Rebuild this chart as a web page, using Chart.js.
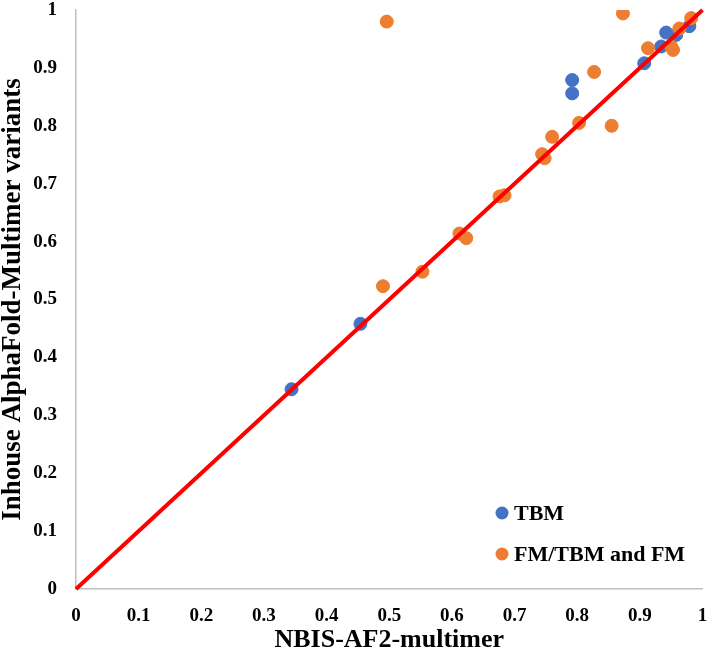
<!DOCTYPE html>
<html lang="en">
<head>
    <meta charset="UTF-8">
    <title>NBIS-AF2-multimer vs Inhouse AlphaFold-Multimer</title>
    <script src="https://cdn.jsdelivr.net/npm/chart.js"></script>
    <style>
        html, body { margin: 0; padding: 0; background: #fff; }
        #wrap { width: 710px; height: 657px; position: relative; }
    </style>
</head>
<body>
    <div id="wrap"><canvas id="scoreChart"></canvas></div>

    <script>
        // Data
        const seriesNames = ['TBM', 'FM/TBM and FM'];
        const tbmX = [0.344, 0.454, 0.792, 0.792, 0.907, 0.934, 0.942, 0.958, 0.979];
        const tbmY = [0.345, 0.458, 0.879, 0.856, 0.908, 0.937, 0.961, 0.957, 0.972];
        const fmX = [0.496, 0.873, 0.982, 0.963, 0.913, 0.950, 0.953, 0.827, 0.803, 0.855,
                     0.760, 0.744, 0.748, 0.676, 0.684, 0.612, 0.623, 0.553, 0.490];
        const fmY = [0.980, 0.994, 0.986, 0.968, 0.934, 0.937, 0.931, 0.893, 0.805, 0.800,
                     0.781, 0.751, 0.744, 0.678, 0.680, 0.614, 0.606, 0.548, 0.523];
        const lineX = [0, 1];
        const lineY = [0, 1];
        const tickValues = [0, 0.1, 0.2, 0.3, 0.4, 0.5, 0.6, 0.7, 0.8, 0.9, 1];
        const tickLabels = ['0', '0.1', '0.2', '0.3', '0.4', '0.5', '0.6', '0.7', '0.8', '0.9', '1'];

        const blue = '#4472C4';
        const orange = '#ED7D31';
        const serif = '"Liberation Serif", "Times New Roman", serif';

        const toPoints = (xs, ys) => xs.map((x, i) => ({ x: x, y: ys[i] }));

        // legend drawn inside the plot, bottom right
        const insideLegend = {
            id: 'insideLegend',
            afterDraw(chart) {
                const ctx = chart.ctx;
                const area = chart.chartArea;
                const colors = [blue, orange];
                const x0 = area.left + (area.right - area.left) * 0.68;
                ctx.save();
                ctx.font = 'bold 22px ' + serif;
                ctx.textBaseline = 'middle';
                seriesNames.forEach((name, i) => {
                    const y = area.bottom - 76 + i * 41;
                    ctx.fillStyle = colors[i];
                    ctx.beginPath();
                    ctx.arc(x0, y, 6.5, 0, Math.PI * 2);
                    ctx.fill();
                    ctx.fillStyle = '#000';
                    ctx.fillText(name, x0 + 12, y + 1);
                });
                ctx.restore();
            }
        };

        // invisible tick marks give the label gap (tick padding would also pad the plot edges)
        function axis(title, isX) {
            return {
                type: 'linear',
                min: 0,
                max: 1,
                afterBuildTicks: s => { s.ticks = tickValues.map(v => ({ value: v })); },
                afterFit: s => { if (isX) s.height = 68; else s.width = 76; },
                grid: {
                    display: true,
                    drawOnChartArea: false,
                    drawTicks: true,
                    tickLength: isX ? 18 : 19,
                    color: 'rgba(0,0,0,0)'
                },
                border: { display: true, color: '#bfbfbf', width: 1.5 },
                ticks: {
                    color: '#000',
                    padding: 0,
                    font: { family: serif, size: 19, weight: 'bold', lineHeight: 1 },
                    callback: (v, i) => tickLabels[i]
                },
                title: {
                    display: true,
                    text: title,
                    color: '#000',
                    font: { family: serif, size: isX ? 26 : 27, weight: 'bold', lineHeight: 1 },
                    padding: isX ? { top: 0, bottom: 4 } : { top: 0, bottom: 0 }
                }
            };
        }

        const ctx = document.getElementById('scoreChart').getContext('2d');
        const scoreChart = new Chart(ctx, {
            type: 'scatter',
            data: {
                datasets: [
                    {
                        type: 'line',
                        label: 'y = x',
                        data: toPoints(lineX, lineY),
                        borderColor: '#FF0000',
                        borderWidth: 4,
                        pointRadius: 0,
                        fill: false,
                        clip: false,
                        order: 0
                    },
                    {
                        label: seriesNames[1],
                        data: toPoints(fmX, fmY),
                        backgroundColor: orange,
                        borderColor: orange,
                        pointRadius: 6.5,
                        order: 1
                    },
                    {
                        label: seriesNames[0],
                        data: toPoints(tbmX, tbmY),
                        backgroundColor: blue,
                        borderColor: blue,
                        pointRadius: 6.5,
                        order: 2
                    }
                ]
            },
            options: {
                responsive: true,
                maintainAspectRatio: false,
                devicePixelRatio: 1,
                animation: false,
                layout: { padding: { top: 10, right: 7, left: 0, bottom: 0 } },
                plugins: {
                    legend: { display: false },
                    tooltip: { enabled: false }
                },
                scales: {
                    x: axis('NBIS-AF2-multimer', true),
                    y: axis('Inhouse AlphaFold-Multimer variants', false)
                }
            },
            plugins: [insideLegend]
        });
    </script>
</body>
</html>
